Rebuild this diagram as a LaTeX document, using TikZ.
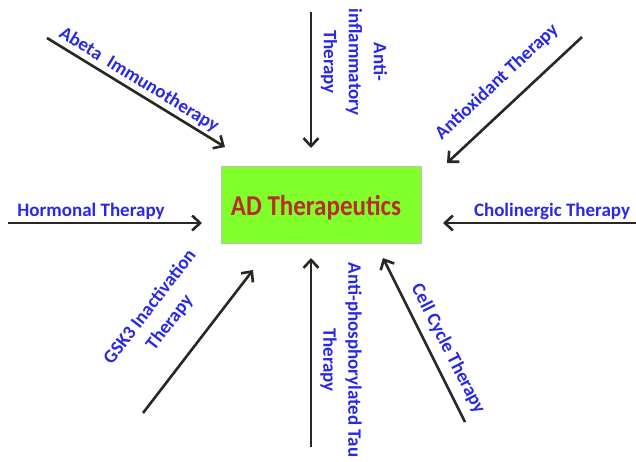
\documentclass[tikz,border=0pt]{standalone}
\usepackage{fontspec}
\setmainfont{Carlito}
\usetikzlibrary{arrows.meta}

\definecolor{adgreen}{RGB}{128,255,42}
\definecolor{adred}{RGB}{185,45,40}
\definecolor{adblue}{RGB}{40,40,230}
\definecolor{adarrow}{RGB}{40,40,34}

\begin{document}
\begin{tikzpicture}
  [x=1pt,y=-1pt,
  lbl/.style={text=adblue,font=\bfseries\fontsize{19}{25}\selectfont,align=center,inner sep=0pt},
  into/.style={draw=adarrow,line width=2.6pt,-{Straight Barb[length=8pt,width=15pt]}}]
  \useasboundingbox (0,0) rectangle (636,462);
  % boite centrale
  \node[fill=adgreen,draw=gray!50,line width=.6pt,minimum width=200pt,minimum height=77pt] (ad) at (321,204.5) {};
  \node[text=adred,font=\bfseries\fontsize{25}{30}\selectfont,inner sep=0pt] (adT) at (316,208)
  {\scalebox{1}[1.15]{AD Therapeutics}};
  % extremites des fleches
  \path
  (47,38) coordinate (abS) (225,147) coordinate (abE)
  (311,12) coordinate (aiS) (311,148) coordinate (aiE)
  (582,37) coordinate (aoS) (447,163) coordinate (aoE)
  (8,223) coordinate (hoS) (202,223) coordinate (hoE)
  (636,223) coordinate (chS) (443,223) coordinate (chE)
  (143,413) coordinate (gsS) (253,270) coordinate (gsE)
  (311,447) coordinate (tauS) (311,258) coordinate (tauE)
  (465,422) coordinate (ccS) (383,258) coordinate (ccE);
  \foreach \a in {ab,ai,ao,ho,ch,gs,tau,cc}
  \draw[into] (\a S)--(\a E);
  % les therapies
  \node[lbl,rotate=-31.5] (abL) at (139,80) {Abeta\ \ Immunotherapy};
  \node[lbl,rotate=-90] (aiL) at (354,62) {Anti-\\inflammatory\\Therapy};
  \node[lbl,rotate=43] (aoL) at (497,82) {Antioxidant Therapy};
  \node[lbl] (hoL) at (91,211) {Hormonal Therapy};
  \node[lbl] (chL) at (552,211) {Cholinergic Therapy};
  \node[lbl,rotate=52.4] (gsL) at (160,315) {GSK3 Inactivation\\Therapy};
  \node[lbl,rotate=-90] (tauL) at (341,360) {Anti-phosphorylated Tau\\Therapy};
  \node[lbl,rotate=-63] (ccL) at (448,349) {Cell Cycle Therapy};
\end{tikzpicture}
\end{document}
